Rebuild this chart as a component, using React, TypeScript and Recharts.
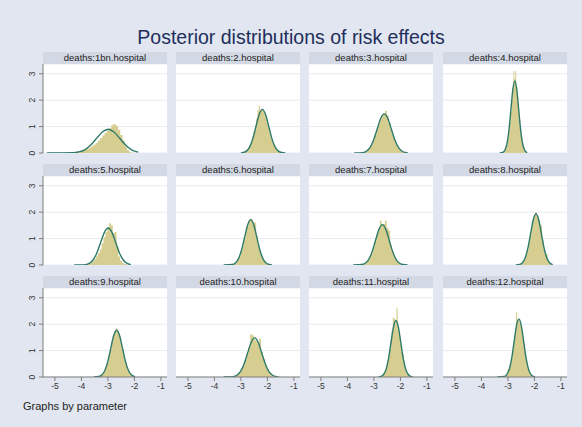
import React from 'react';
import { ComposedChart, Area, Line, XAxis, YAxis, CartesianGrid } from 'recharts';

// ---------- data ----------
const panelTitles = [
  'deaths:1bn.hospital', 'deaths:2.hospital', 'deaths:3.hospital', 'deaths:4.hospital',
  'deaths:5.hospital', 'deaths:6.hospital', 'deaths:7.hospital', 'deaths:8.hospital',
  'deaths:9.hospital', 'deaths:10.hospital', 'deaths:11.hospital', 'deaths:12.hospital',
];
const xTicks = [-5, -4, -3, -2, -1];
const yTicks = [0, 1, 2, 3];

// histogram: first bin centre, bin width, bin densities
const histStart = [-4.53, -2.9, -3.42, -3.178, -3.83, -3.326, -3.46, -2.552, -3.342, -3.29, -2.728, -3.125];
const histWidth = [0.085, 0.05, 0.0675, 0.0365, 0.07, 0.058, 0.065, 0.051, 0.056, 0.0675, 0.0465, 0.045];
const hist1 = [0.02, 0.02, 0.03, 0.04, 0.05, 0.06, 0.08, 0.10, 0.13, 0.16, 0.2, 0.25, 0.31, 0.38, 0.47, 0.56, 0.66, 0.76, 0.85, 0.94, 1.05, 1.1, 1.02, 0.88, 0.68, 0.46, 0.25, 0.1, 0.03, 0.01];
const hist2 = [0.02, 0.04, 0.07, 0.12, 0.19, 0.3, 0.43, 0.62, 0.82, 1.05, 1.3, 1.62, 1.79, 1.6, 1.66, 1.6, 1.5, 1.35, 1.15, 0.95, 0.75, 0.58, 0.42, 0.3, 0.2, 0.13, 0.08, 0.05, 0.03, 0.02, 0.01];
const hist3 = [0.01, 0.03, 0.06, 0.11, 0.19, 0.3, 0.46, 0.66, 0.87, 1.1, 1.27, 1.42, 1.5, 1.6, 1.42, 1.15, 0.9, 0.67, 0.47, 0.31, 0.19, 0.11, 0.06, 0.03, 0.01];
const hist4 = [0.01, 0.03, 0.08, 0.17, 0.3, 0.5, 0.8, 1.15, 1.55, 2.0, 2.45, 3.1, 2.8, 3.1, 2.5, 2.15, 1.75, 1.3, 0.9, 0.6, 0.38, 0.22, 0.12, 0.06, 0.03];
const hist5 = [0.01, 0.02, 0.04, 0.08, 0.14, 0.22, 0.33, 0.45, 0.6, 0.82, 1.05, 1.25, 1.42, 1.58, 1.5, 1.2, 1.25, 0.7, 0.32, 0.15, 0.08, 0.04, 0.02, 0.01, 0.0];
const hist6 = [0.01, 0.03, 0.06, 0.11, 0.2, 0.33, 0.52, 0.74, 1.0, 1.26, 1.48, 1.7, 1.75, 1.7, 1.62, 1.6, 1.1, 0.76, 0.55, 0.37, 0.23, 0.14, 0.07, 0.04, 0.02];
const hist7 = [0.02, 0.03, 0.06, 0.11, 0.19, 0.31, 0.47, 0.68, 0.9, 1.13, 1.35, 1.68, 1.52, 1.55, 1.68, 1.4, 1.3, 0.75, 0.5, 0.33, 0.21, 0.12, 0.07, 0.03, 0.02];
const hist8 = [0.02, 0.04, 0.08, 0.14, 0.24, 0.38, 0.58, 0.84, 1.12, 1.42, 1.7, 1.9, 2.0, 1.85, 1.7, 1.55, 1.5, 0.95, 0.62, 0.42, 0.43, 0.17, 0.09, 0.04, 0.02];
const hist9 = [0.02, 0.04, 0.08, 0.14, 0.23, 0.37, 0.56, 0.8, 1.06, 1.35, 1.6, 1.75, 1.85, 1.75, 1.55, 1.32, 1.08, 0.82, 0.58, 0.39, 0.24, 0.14, 0.08, 0.04, 0.02];
const hist10 = [0.01, 0.03, 0.06, 0.11, 0.19, 0.3, 0.46, 0.65, 0.88, 1.12, 1.62, 1.58, 1.42, 1.38, 1.3, 1.46, 0.95, 0.68, 0.48, 0.32, 0.2, 0.12, 0.06, 0.03, 0.02];
const hist11 = [0.02, 0.05, 0.1, 0.18, 0.3, 0.48, 0.72, 1.02, 1.38, 1.75, 2.25, 2.2, 2.05, 2.6, 1.8, 1.55, 1.25, 0.95, 0.85, 0.45, 0.28, 0.16, 0.09, 0.05, 0.02];
const hist12 = [0.02, 0.05, 0.1, 0.3, 0.3, 0.48, 0.7, 1.0, 1.32, 1.65, 2.45, 2.15, 2.15, 2.05, 1.9, 1.75, 1.35, 1.0, 0.72, 0.47, 0.3, 0.17, 0.1, 0.05, 0.02];

// normal density overlay, read point by point: [x, density]
const curve1 = [[-5.3, 0], [-4.32, 0.01], [-4.1, 0.04], [-3.876, 0.122], [-3.655, 0.292], [-3.433, 0.546], [-3.21, 0.794], [-2.99, 0.9], [-2.77, 0.794], [-2.547, 0.546], [-2.325, 0.292], [-2.104, 0.122], [-1.86, 0.035]];
const curve2 = [[-3.0, 0.006], [-2.916, 0.018], [-2.795, 0.072], [-2.674, 0.223], [-2.553, 0.536], [-2.432, 1.001], [-2.311, 1.456], [-2.19, 1.65], [-2.069, 1.456], [-1.948, 1.001], [-1.827, 0.536], [-1.706, 0.223], [-1.585, 0.072], [-1.464, 0.018], [-1.325, 0.003]];
const curve3 = [[-3.74, 0], [-3.42, 0.016], [-3.285, 0.065], [-3.15, 0.2], [-3.015, 0.481], [-2.88, 0.898], [-2.745, 1.306], [-2.61, 1.48], [-2.475, 1.306], [-2.34, 0.898], [-2.205, 0.481], [-2.07, 0.2], [-1.935, 0.065], [-1.8, 0.016], [-1.71, 0.006]];
const curve4 = [[-3.31, 0.001], [-3.178, 0.03], [-3.105, 0.12], [-3.032, 0.369], [-2.959, 0.886], [-2.886, 1.656], [-2.813, 2.409], [-2.74, 2.73], [-2.667, 2.409], [-2.594, 1.656], [-2.521, 0.886], [-2.448, 0.369], [-2.375, 0.12], [-2.302, 0.03], [-2.27, 0.015]];
const curve5 = [[-4.27, 0], [-3.845, 0.016], [-3.703, 0.061], [-3.56, 0.189], [-3.418, 0.455], [-3.275, 0.849], [-3.133, 1.236], [-2.99, 1.4], [-2.848, 1.236], [-2.705, 0.849], [-2.563, 0.455], [-2.42, 0.189], [-2.278, 0.061], [-2.14, 0.016]];
const curve6 = [[-3.65, 0], [-3.326, 0.019], [-3.21, 0.076], [-3.094, 0.233], [-2.978, 0.558], [-2.862, 1.043], [-2.746, 1.518], [-2.63, 1.72], [-2.514, 1.518], [-2.398, 1.043], [-2.282, 0.558], [-2.166, 0.233], [-2.05, 0.076], [-1.934, 0.019], [-1.83, 0.004]];
const curve7 = [[-3.78, 0], [-3.46, 0.017], [-3.33, 0.067], [-3.2, 0.207], [-3.07, 0.497], [-2.94, 0.928], [-2.81, 1.35], [-2.68, 1.53], [-2.55, 1.35], [-2.42, 0.928], [-2.29, 0.497], [-2.16, 0.207], [-2.03, 0.067], [-1.9, 0.017], [-1.73, 0.002]];
const curve8 = [[-2.7, 0.002], [-2.555, 0.022], [-2.453, 0.085], [-2.35, 0.262], [-2.248, 0.63], [-2.145, 1.177], [-2.043, 1.712], [-1.94, 1.94], [-1.838, 1.712], [-1.735, 1.177], [-1.633, 0.63], [-1.53, 0.262], [-1.428, 0.085], [-1.31, 0.017]];
const curve9 = [[-3.53, 0.001], [-3.345, 0.02], [-3.233, 0.078], [-3.12, 0.239], [-3.008, 0.575], [-2.895, 1.074], [-2.783, 1.562], [-2.67, 1.77], [-2.558, 1.562], [-2.445, 1.074], [-2.333, 0.575], [-2.22, 0.239], [-2.108, 0.078], [-1.98, 0.016]];
const curve10 = [[-3.65, 0], [-3.29, 0.016], [-3.155, 0.065], [-3.02, 0.2], [-2.885, 0.481], [-2.75, 0.898], [-2.615, 1.306], [-2.48, 1.48], [-2.345, 1.306], [-2.21, 0.898], [-2.075, 0.481], [-1.94, 0.2], [-1.805, 0.065], [-1.67, 0.016], [-1.57, 0.005]];
const curve11 = [[-2.83, 0.004], [-2.728, 0.024], [-2.635, 0.094], [-2.542, 0.29], [-2.449, 0.695], [-2.356, 1.298], [-2.263, 1.889], [-2.17, 2.14], [-2.077, 1.889], [-1.984, 1.298], [-1.891, 0.695], [-1.798, 0.29], [-1.705, 0.094], [-1.612, 0.024], [-1.54, 0.007]];
const curve12 = [[-3.4, 0], [-3.128, 0.024], [-3.038, 0.097], [-2.947, 0.298], [-2.857, 0.714], [-2.766, 1.334], [-2.676, 1.942], [-2.585, 2.2], [-2.495, 1.942], [-2.404, 1.334], [-2.314, 0.714], [-2.223, 0.298], [-2.133, 0.097], [-2.042, 0.024], [-1.98, 0.008]];

const hists = [hist1, hist2, hist3, hist4, hist5, hist6, hist7, hist8, hist9, hist10, hist11, hist12];
const curves = [curve1, curve2, curve3, curve4, curve5, curve6, curve7, curve8, curve9, curve10, curve11, curve12];

// ---------- style / layout ----------
const BG = '#e1e6f0';
const HEADER = '#d3d9e4';
const KHAKI = '#d6cd90';
const GREEN = '#2e7a68';
const GRID = '#e6ebf3';
const AXIS = '#7d7d7d';
const FONT = '"Liberation Sans", Arial, Helvetica, sans-serif';

const PW = 124;
const PH = 89;
const colLeft = [43, 176, 309, 443];
const rowTop = [64, 176, 288];
const X_DOMAIN: [number, number] = [-5.45, -0.77];
const Y_DOMAIN: [number, number] = [0, 3.37];

function histRows(i: number) {
  const s = histStart[i];
  const w = histWidth[i];
  const hs = hists[i];
  const rows: { x: number; h: number }[] = [{ x: s - w, h: 0 }];
  hs.forEach((h, k) => rows.push({ x: s + k * w, h }));
  rows.push({ x: s + hs.length * w, h: 0 });
  return rows;
}

function YTick(props: any) {
  const { x, y, payload } = props;
  return (
    <text
      x={x}
      y={y}
      transform={`rotate(-90 ${x} ${y})`}
      textAnchor="middle"
      fontSize={8.5}
      fill="#333"
    >
      {payload.value}
    </text>
  );
}

function Panel({ idx }: { idx: number }) {
  const r = Math.floor(idx / 4);
  const c = idx % 4;
  const showY = c === 0;
  const showX = r === 2;
  const yW = showY ? 22 : 0;
  const xH = showX ? 22 : 0;
  const padB = showY && !showX ? 6 : 0;
  const data = histRows(idx);
  const curve = curves[idx].map(([x, y]) => ({ x, y }));
  return (
    <>
      <div
        style={{
          position: 'absolute',
          left: colLeft[c],
          top: rowTop[r] - 12,
          width: PW,
          height: 12,
          background: HEADER,
          fontSize: 9.5,
          lineHeight: '12px',
          textAlign: 'center',
          color: '#222',
        }}
      >
        {panelTitles[idx]}
      </div>
      <div style={{ position: 'absolute', left: colLeft[c] - yW, top: rowTop[r] }}>
        <ComposedChart
          width={PW + yW}
          height={PH + xH + padB}
          data={data}
          margin={{ top: 0, right: 0, bottom: padB, left: 0 }}
        >
          <CartesianGrid vertical={false} stroke={GRID} fill="#ffffff" />
          <XAxis
            type="number"
            dataKey="x"
            domain={X_DOMAIN}
            ticks={xTicks}
            allowDataOverflow
            hide={!showX}
            height={xH}
            axisLine={{ stroke: AXIS }}
            tickLine={{ stroke: AXIS }}
            tickSize={4}
            tickMargin={2}
            tick={{ fontSize: 8.5, fill: '#333' }}
            interval={0}
          />
          <YAxis
            type="number"
            domain={Y_DOMAIN}
            ticks={yTicks}
            allowDataOverflow
            hide={!showY}
            width={yW}
            axisLine={{ stroke: AXIS }}
            tickLine={{ stroke: AXIS }}
            tickSize={4}
            tickMargin={4}
            tick={<YTick />}
            interval={0}
          />
          <Area
            type="step"
            dataKey="h"
            stroke="none"
            fill={KHAKI}
            fillOpacity={1}
            isAnimationActive={false}
          />
          <Line
            data={curve}
            dataKey="y"
            type="monotone"
            stroke={GREEN}
            strokeWidth={1.4}
            dot={false}
            isAnimationActive={false}
          />
        </ComposedChart>
      </div>
    </>
  );
}

export default function App() {
  return (
    <div
      style={{
        position: 'absolute',
        left: 0,
        top: 0,
        width: 582,
        height: 427,
        background: BG,
        fontFamily: FONT,
        overflow: 'hidden',
      }}
    >
      <div
        style={{
          position: 'absolute',
          left: 0,
          top: 25,
          width: 582,
          textAlign: 'center',
          fontSize: 19.5,
          lineHeight: '24px',
          color: '#1e2f5c',
        }}
      >
        Posterior distributions of risk effects
      </div>
      {panelTitles.map((_, i) => (
        <Panel key={i} idx={i} />
      ))}
      <div
        style={{
          position: 'absolute',
          left: 23,
          top: 399,
          fontSize: 11,
          lineHeight: '14px',
          color: '#222',
        }}
      >
        Graphs by parameter
      </div>
    </div>
  );
}
